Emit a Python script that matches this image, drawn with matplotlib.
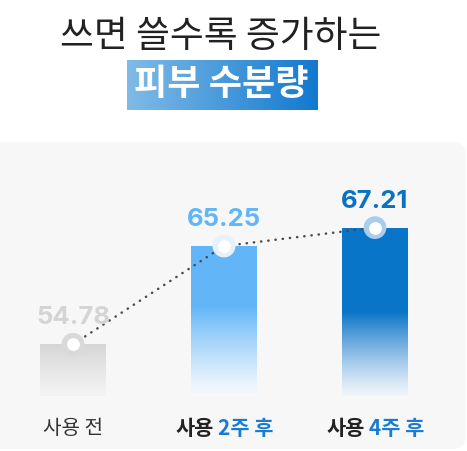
import numpy as np
import matplotlib.pyplot as plt
from matplotlib.colors import to_rgb
from matplotlib.patches import FancyBboxPatch
from matplotlib.offsetbox import TextArea, HPacker, AnnotationBbox

plt.rcParams['font.family'] = ['Noto Sans CJK KR', 'DejaVu Sans']

# ── Data ───────────────────────────────────────────────────────────────────
TITLE = '쓰면 쓸수록 증가하는'
HIGHLIGHT = '피부 수분량'
stage_head = ['사용 전', '사용', '사용']
stage_tail = ['', '2주 후', '4주 후']
moisture = [54.78, 65.25, 67.21]

# ── Styles ─────────────────────────────────────────────────────────────────
BAR_TOP = ['#d6d6d6', '#62b6f8', '#0a75c9']
BAR_BOTTOM = ['#f3f3f3', '#f6f9fd', '#f0f5fa']
FADE = [1.0, 0.6, 0.5]          # share of the bar (from bottom) that fades
HALO = ['#d9d9d9', '#e6f1fb', '#a9cdea']
VALUE_COL = ['#d4d4d4', '#62b6f8', '#0a72c4']
BLUE = '#1a7bd1'
DARK = '#222222'
PANEL = '#f7f7f7'

W, H = 467, 452
fig = plt.figure(figsize=(W / 100, H / 100), dpi=100)
fig.patch.set_facecolor('white')

# background layer in pixel coordinates: title, highlight box, panel
bg = fig.add_axes([0, 0, 1, 1])
bg.axis('off')
bg.add_patch(FancyBboxPatch((-40, 143), W - 1 + 40, 307,
                            boxstyle='round,pad=0,rounding_size=14',
                            fc=PANEL, ec='none'))
grad = np.linspace(0, 1, 256)[None, :, None]
c0, c1 = np.array(to_rgb('#80bbe7')), np.array(to_rgb('#1279cf'))
bg.imshow(c0 + (c1 - c0) * grad, extent=(127, 318, 111, 61), aspect='auto')
bg.text(221, 36, TITLE, ha='center', va='center', fontsize=26.5,
        color=DARK, fontweight='medium')
bg.text(221, 85, HIGHLIGHT, ha='center', va='center', fontsize=26,
        color='white', fontweight='bold')
bg.set_xlim(0, W)
bg.set_ylim(H, 0)

# ── Chart ──────────────────────────────────────────────────────────────────
ax = fig.add_axes([0, 55 / H, 1, 254 / H])
ax.patch.set_alpha(0)
ax.axis('off')
Y0 = 49.27
x = np.arange(len(moisture))
bars = ax.bar(x, np.array(moisture) - Y0, bottom=Y0, width=0.437,
              color='none', edgecolor='none')

for i, b in enumerate(bars):
    t = np.linspace(0, 1, 300)
    mix = np.clip(t / FADE[i], 0, 1) ** 1.2
    top, bot = np.array(to_rgb(BAR_TOP[i])), np.array(to_rgb(BAR_BOTTOM[i]))
    img = bot + (top - bot) * mix[:, None]
    im = ax.imshow(img[:, None, :], origin='lower', aspect='auto',
                   extent=(b.get_x(), b.get_x() + b.get_width(),
                           b.get_y(), b.get_y() + b.get_height()), zorder=2)
    im.set_clip_path(b)

ax.plot(x, moisture, ls=(0, (0.1, 2.8)), lw=1.8, dash_capstyle='round',
        color='#4a4a4a', zorder=3)
ax.scatter(x, moisture, s=270, c=HALO, linewidths=0, zorder=4)
ax.scatter(x, moisture, s=85, c='white', linewidths=0, zorder=5)

for i, v in enumerate(moisture):
    ax.annotate(f'{v:.2f}', (x[i], v), xytext=(0, 15),
                textcoords='offset points', ha='center', va='baseline',
                fontsize=18.5, fontweight='bold', color=VALUE_COL[i],
                zorder=6, family=['Inter', 'Noto Sans CJK KR'])

for i in x:
    if stage_tail[i]:
        parts = [TextArea(stage_head[i], textprops=dict(
                     fontsize=15, fontweight='bold', color=DARK)),
                 TextArea(stage_tail[i], textprops=dict(
                     fontsize=15, fontweight='bold', color=BLUE))]
    else:
        parts = [TextArea(stage_head[i], textprops=dict(
                     fontsize=14.5, color='#333333'))]
    box = HPacker(children=parts, sep=3, pad=0, align='baseline')
    ax.add_artist(AnnotationBbox(box, (i, -0.125),
                                 xycoords=ax.get_xaxis_transform(),
                                 frameon=False, box_alignment=(0.5, 0.5),
                                 annotation_clip=False))

ax.set_xlim(-73 / 151, 2 + 92 / 151)
ax.set_ylim(Y0, Y0 + 254 / 9.385)

fig.savefig('out.png', dpi=100)
